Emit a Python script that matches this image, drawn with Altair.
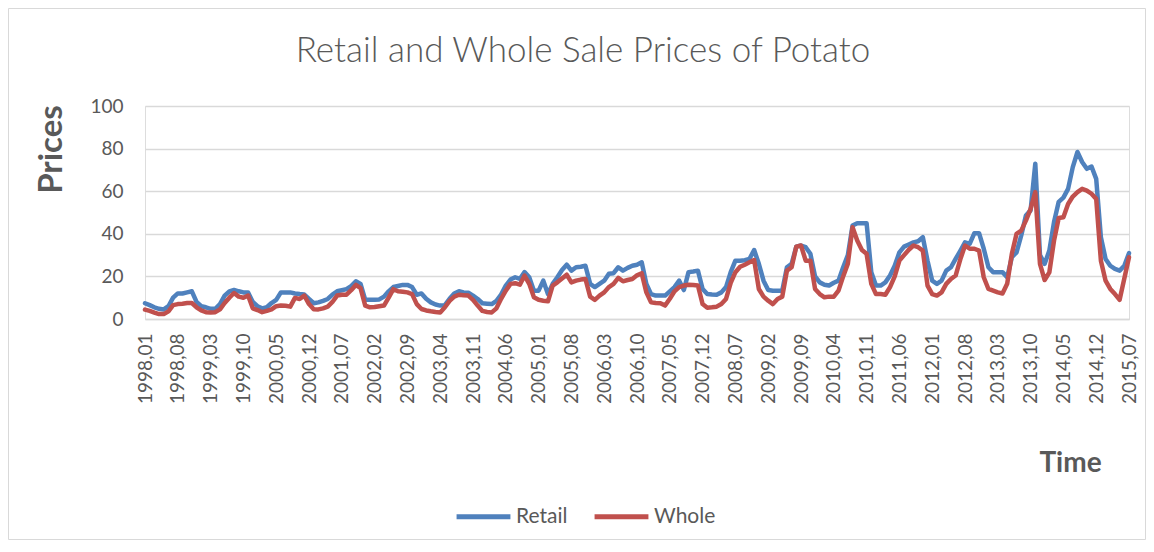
import altair as alt
import pandas as pd

# Monthly categories 1998,01 .. 2015,07
years = list(range(1998, 2016))
months = list(range(1, 13))
labels = [f"{y},{m:02d}" for y in years for m in months][:211]

tick_labels = ["1998,01", "1998,08", "1999,03", "1999,10", "2000,05", "2000,12",
               "2001,07", "2002,02", "2002,09", "2003,04", "2003,11", "2004,06",
               "2005,01", "2005,08", "2006,03", "2006,10", "2007,05", "2007,12",
               "2008,07", "2009,02", "2009,09", "2010,04", "2010,11", "2011,06",
               "2012,01", "2012,08", "2013,03", "2013,10", "2014,05", "2014,12",
               "2015,07"]

retail = [
    7.4, 6.5, 5.5, 4.8, 4.5, 6, 10, 12, 12, 12.5, 13, 8,
    6, 5.5, 4.8, 4.8, 7, 11, 13, 13.6, 13, 12.5, 12.5, 8,
    6, 5, 5.5, 7.5, 9, 12.5, 12.5, 12.5, 12, 11.7, 11.5, 9.4,
    7.4, 7.8, 8.5, 9.4, 11.5, 13, 13.5, 14, 15.5, 17.7, 16.5, 9,
    9, 9, 9.2, 10.5, 13, 15, 15.5, 16, 16, 15, 11.4, 12,
    9.5, 7.8, 6.8, 6.3, 6.5, 9.5, 12, 13, 12.5, 12.3, 11, 9.4,
    7.4, 7.2, 7, 8.5, 11.5, 15.7, 18.5, 19.6, 18.8, 22, 19.6, 13.3,
    13.3, 18, 11.7, 16.5, 19.6, 23, 25.5, 22.7, 24.3, 24.5, 25, 16.5,
    15, 16.5, 18, 21.2, 21.5, 24.3, 22.7, 24, 25, 25.5, 26.6, 16.5,
    11.7, 11, 11, 11, 13, 15, 18, 13.6, 22, 22.3, 22.7, 14.1,
    11.7, 11.5, 11.4, 12.5, 15, 22, 27.4, 27.4, 27.6, 28.2, 32.4, 25.9,
    18, 13.6, 13.3, 13.3, 13.3, 24.3, 25.9, 34, 34.5, 33.7, 30.6, 20,
    17.2, 16.1, 15.7, 17, 18, 24.3, 30, 43.9, 45, 45, 45, 22,
    15.7, 15.7, 17.2, 20.4, 25, 31.3, 34, 35, 36, 36.5, 38.4, 27.4,
    18, 16.5, 18, 22.7, 24.3, 28.2, 32, 36, 35.3, 40.3, 40.3, 33,
    24.3, 22, 22, 22, 19.6, 29, 31.3, 39.2, 48.6, 51, 72.9, 30,
    25.9, 32.1, 45.5, 55, 57, 61.1, 71.3, 78.4, 73.7, 70.5, 71.6, 65.8,
    38.4, 28.2, 25, 23.5, 22.7, 25, 30.9,
]

whole = [
    4.4, 3.8, 3, 2.3, 2.3, 3.6, 6.5, 7, 7.2, 7.5, 7.5, 5.5,
    4, 3.2, 3, 3.2, 4.5, 7.5, 10, 12.2, 10.5, 10, 11, 5,
    4.2, 3.2, 3.8, 4.5, 6, 6.3, 6.2, 5.8, 9.9, 9.4, 11, 7,
    4.6, 4.5, 5, 5.8, 8, 11, 11.4, 11.4, 13.5, 16, 14.5, 6.3,
    5.5, 5.6, 6, 6.3, 10, 14, 13, 12.8, 12.5, 11.7, 7, 4.7,
    4, 3.6, 3.3, 3.1, 5.5, 8.5, 10.5, 11.4, 11.2, 11, 9, 6.3,
    3.8, 3.3, 3.1, 5, 9.5, 13.3, 16.5, 16.8, 16.1, 20.4, 16.5, 10.2,
    9, 8.6, 8.3, 15.7, 17.2, 19, 20.8, 17.2, 18, 18.5, 18.8, 10.5,
    9, 11, 12.5, 15, 16.5, 19.3, 17.7, 18.3, 18.8, 20.5, 21.5, 12.5,
    7.8, 7.5, 7.4, 6.3, 9.5, 13, 15, 15.7, 16.1, 16, 15.7, 7,
    5.3, 5.5, 5.8, 7, 9.4, 17, 22, 24.5, 25.5, 26.6, 27.7, 14.1,
    10.5, 8.6, 7, 9.4, 10.5, 22.7, 24.3, 34, 34.5, 27.4, 27.4, 14.1,
    11.7, 10.2, 10.5, 10.5, 13.3, 20, 26, 43.1, 36.8, 32.4, 30.6, 16.5,
    11.7, 11.7, 11.4, 15, 20, 27.4, 30, 32.5, 34.5, 33.7, 32.1, 15.7,
    11.7, 11, 12.5, 16.5, 18.8, 20.4, 28, 34.5, 33, 33, 32.1, 19.6,
    14.1, 13.3, 12.5, 12, 16.5, 30.6, 40, 41.5, 46.2, 51.7, 59.6, 25.9,
    18.3, 21.9, 36.8, 47.4, 47.8, 54, 57.5, 59.6, 61.1, 60.3, 58.8, 56.4,
    27.4, 18, 14.1, 11.7, 9, 19, 29,
]

assert len(retail) == len(labels) == len(whole)

series_names = ["Retail", "Whole"]
series_colors = ["#4F81BD", "#C0504D"]
chart_title = "Retail and Whole Sale Prices of Potato"

df = pd.DataFrame({
    "Time": labels * 2,
    "Price": retail + whole,
    "Series": ["Retail"] * len(retail) + ["Whole"] * len(whole),
})

W, H = 984, 213
PL, PT, PR, PB = 137, 98, 17, 221
FONT = "Lato"
GRAY = "#595959"

x_enc = alt.X("Time:O", sort=None,
              scale=alt.Scale(type="point", padding=0),
              axis=alt.Axis(values=tick_labels, labelAngle=270, ticks=False,
                            labelPadding=14, labelFontSize=19, labelColor=GRAY,
                            labelFont=FONT, domainColor="#D9D9D9", domainWidth=1.3,
                            grid=False, title="Time", titleFont=FONT,
                            titleFontSize=28, titleFontWeight="bold",
                            titleColor=GRAY, titleX=925, titleY=144,
                            titleAlign="center", titleBaseline="middle",
                            labelOverlap=False))
y_enc = alt.Y("Price:Q",
              scale=alt.Scale(domain=[0, 100], nice=False),
              axis=alt.Axis(values=[0, 20, 40, 60, 80, 100], ticks=False,
                            domain=False, labelPadding=22, labelFontSize=19,
                            labelColor=GRAY, labelFont=FONT,
                            gridColor="#D9D9D9", gridWidth=1.3,
                            title="Prices", titleFont=FONT, titleFontSize=33,
                            titleFontWeight="bold", titleColor=GRAY,
                            titleAngle=270, titleX=-94, titleY=43,
                            titleAlign="center", titleBaseline="middle"))
color_enc = alt.Color("Series:N",
                      scale=alt.Scale(domain=series_names, range=series_colors),
                      legend=alt.Legend(title=None, orient="none",
                                        direction="horizontal",
                                        legendX=309, legendY=381,
                                        symbolType="stroke", symbolSize=2900,
                                        symbolStrokeWidth=5, labelFontSize=21,
                                        labelFont=FONT, labelColor=GRAY,
                                        labelOffset=3, columnPadding=16))

base = alt.Chart(df)
retail_line = base.transform_filter(alt.datum.Series == "Retail").mark_line(
    strokeWidth=4.5, strokeCap="round", strokeJoin="round"
).encode(x=x_enc, y=y_enc, color=color_enc)
whole_line = base.transform_filter(alt.datum.Series == "Whole").mark_line(
    strokeWidth=4.5, strokeCap="round", strokeJoin="round"
).encode(x=x_enc, y=y_enc, color=color_enc)

one = pd.DataFrame({"t": [chart_title]})
border = alt.Chart(one).mark_rect(
    fill=None, stroke="#D9D9D9", strokeWidth=1
).encode(x=alt.value(-PL + 0.5), x2=alt.value(W + PR - 0.5),
         y=alt.value(-PT + 0.5), y2=alt.value(H + PB - 0.5))

title_text = alt.Chart(one).mark_text(
    font=FONT, fontSize=35, fontWeight=300, color=GRAY,
    align="center", baseline="middle"
).encode(text="t:N", x=alt.value(438), y=alt.value(-55))

chart = alt.layer(border, title_text, retail_line, whole_line).properties(
    width=W, height=H,
    autosize=alt.AutoSizeParams(type="none"),
    padding={"left": PL, "top": PT, "right": PR, "bottom": PB},
).configure_view(stroke=None).configure(background="white")

chart.save("out.html", embed_options={"renderer": "svg", "actions": False})
